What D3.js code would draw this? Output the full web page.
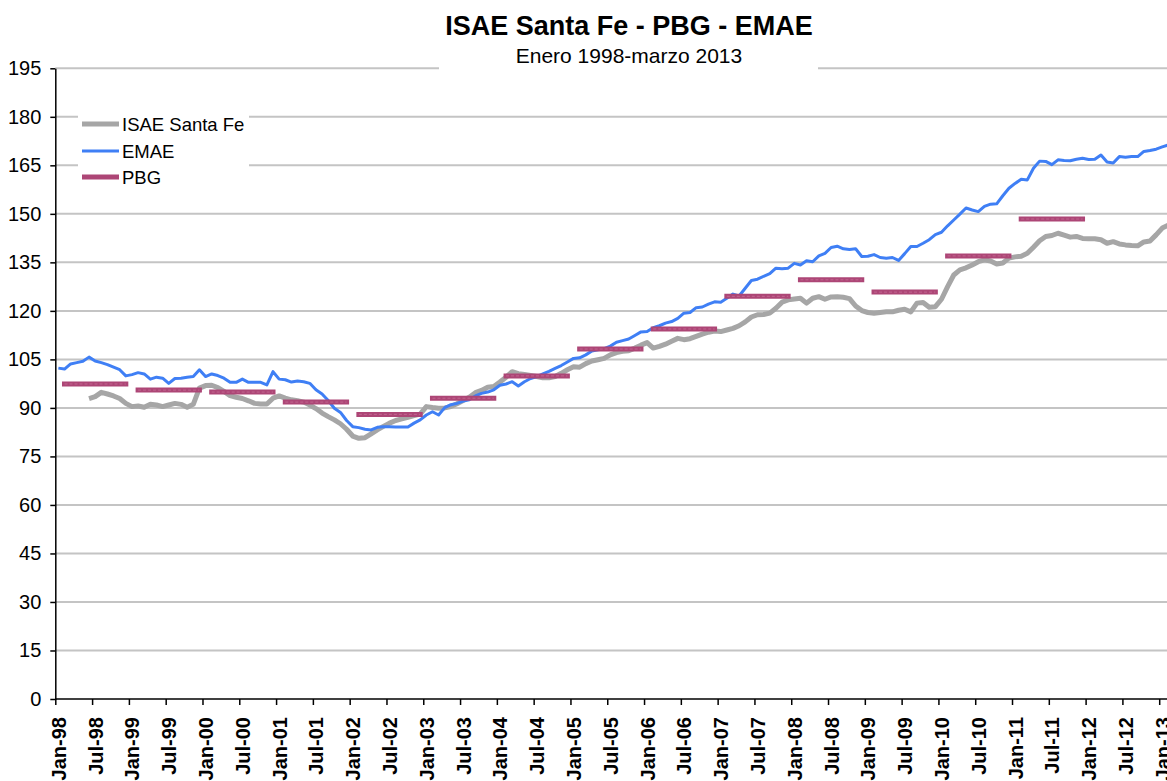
<!DOCTYPE html>
<html>
<head>
<meta charset="utf-8">
<script src="https://cdn.jsdelivr.net/npm/d3@7"></script>
<style>
  body { margin: 0; background: #fff; }
  svg { display: block; font-family: "Liberation Sans", Arial, sans-serif; }
</style>
</head>
<body>
<svg id="chart" width="1167" height="781"></svg>
<script>
// monthly index: 0 = Jan-98
var tickLabels = ["Jan-98","Jul-98","Jan-99","Jul-99","Jan-00","Jul-00","Jan-01","Jul-01",
  "Jan-02","Jul-02","Jan-03","Jul-03","Jan-04","Jul-04","Jan-05","Jul-05","Jan-06","Jul-06",
  "Jan-07","Jul-07","Jan-08","Jul-08","Jan-09","Jul-09","Jan-10","Jul-10","Jan-11","Jul-11",
  "Jan-12","Jul-12","Jan-13"];

var emae = [102.3,102.0,103.6,104.0,104.4,105.7,104.5,104.0,103.4,102.6,101.8,99.9,
  100.3,100.9,100.5,98.9,99.5,99.2,97.6,99.1,99.2,99.5,99.7,101.8,
  99.7,100.5,100.0,99.2,97.9,97.9,98.9,97.9,97.9,97.9,97.1,101.2,
  98.9,98.7,98.0,98.3,98.1,97.6,95.6,94.3,92.3,89.9,88.6,86.1,
  84.2,83.9,83.4,83.2,84.0,84.2,84.2,84.1,84.1,84.1,85.3,86.3,
  87.8,88.8,87.8,90.1,91.0,91.4,92.1,92.5,93.7,94.5,94.9,95.6,
  97.0,97.4,98.1,96.8,98.1,99.1,99.7,100.5,101.3,102.2,103.1,104.2,
  105.3,105.5,106.4,107.6,108.0,108.3,109.1,110.3,110.8,111.3,112.4,113.5,
  113.6,114.8,115.4,116.2,116.7,117.7,119.3,119.5,121.0,121.2,122.1,122.8,
  122.7,123.9,125.2,124.6,127.0,129.4,129.8,130.7,131.5,133.2,133.0,133.2,
  134.7,134.2,135.5,135.2,137.0,137.8,139.6,140.0,139.2,139.0,139.2,136.8,
  136.9,137.4,136.5,136.3,136.5,135.6,137.7,139.9,139.9,140.9,142.0,143.6,
  144.3,146.3,148.1,149.9,151.8,151.2,150.7,152.3,153.0,153.1,155.6,157.9,
  159.4,160.7,160.5,164.1,166.3,166.2,165.2,166.7,166.5,166.4,166.9,167.2,
  166.8,166.9,168.2,166.0,165.7,167.7,167.5,167.7,167.7,169.3,169.6,170.0,
  170.7,171.3,171.8];

var isae = [null,null,null,null,null,92.9,93.5,94.8,94.3,93.7,92.9,91.4,
  90.4,90.6,90.2,91.1,90.9,90.4,90.9,91.4,91.1,90.2,91.1,96.1,
  96.9,97.0,96.3,95.1,93.8,93.3,92.9,92.2,91.4,91.2,91.2,93.0,
  93.7,93.0,92.5,92.2,91.8,90.9,89.8,88.4,87.3,86.3,85.1,83.4,
  81.3,80.6,80.8,82.0,83.2,84.3,85.3,86.1,86.6,87.1,87.6,88.1,
  90.4,90.1,89.9,90.0,90.4,91.3,92.3,93.3,94.7,95.4,96.4,96.6,
  98.0,99.5,101.2,100.6,100.3,100.0,99.7,99.3,99.3,99.7,100.7,101.8,
  102.7,102.6,103.7,104.5,104.9,105.3,106.4,107.1,107.5,107.7,108.5,109.4,
  110.2,108.5,109.0,109.7,110.6,111.5,111.1,111.4,112.1,112.8,113.4,113.8,
  113.6,114.1,114.6,115.4,116.6,118.1,118.8,118.9,119.3,120.8,122.7,123.4,
  123.7,123.9,122.4,123.9,124.4,123.6,124.3,124.4,124.2,123.8,121.5,120.1,
  119.5,119.3,119.5,119.7,119.7,120.2,120.5,119.7,122.4,122.6,121.1,121.3,
  123.6,127.5,131.1,132.7,133.3,134.2,135.2,135.8,135.4,134.5,134.8,136.3,
  136.7,136.9,137.8,139.7,141.7,143.0,143.3,144.0,143.4,142.8,143.0,142.4,
  142.3,142.3,142.0,140.9,141.4,140.7,140.4,140.2,140.1,141.3,141.6,143.5,
  145.6,146.5,147.0];

// PBG: one value per year, drawn Feb to Dec
var pbgYears = [1998,1999,2000,2001,2002,2003,2004,2005,2006,2007,2008,2009,2010,2011];
var pbg = [97.4,95.5,94.9,91.8,88.0,93.0,99.9,108.2,114.4,124.5,129.6,125.8,137.0,148.4];

var yTicks = d3.range(0, 196, 15);

var svg = d3.select("#chart");
var x = d3.scaleLinear().domain([0, 180]).range([55.3, 1159.2]);
var y = d3.scaleLinear().domain([0, 195]).range([699, 68.3]);

// gridlines
svg.append("g")
  .selectAll("line")
  .data(yTicks.filter(function(d) { return d > 0; }))
  .enter().append("line")
  .attr("x1", x(0)).attr("x2", 1167)
  .attr("y1", function(d) { return y(d); })
  .attr("y2", function(d) { return y(d); })
  .attr("stroke", "#c4c4c4")
  .attr("stroke-width", 2);

// white boxes behind title and legend
svg.append("rect").attr("x", 439).attr("y", 0).attr("width", 379).attr("height", 72).attr("fill", "#fff");
svg.append("rect").attr("x", 78).attr("y", 104).attr("width", 171).attr("height", 86).attr("fill", "#fff");

// axes
var yAxis = svg.append("g")
  .attr("transform", "translate(" + x(0) + ",0)")
  .call(d3.axisLeft(y).tickValues(yTicks).tickSize(5).tickSizeOuter(0).tickPadding(9));
yAxis.selectAll("text").attr("font-size", 20).attr("font-family", "Liberation Sans, Arial, sans-serif").attr("fill", "#000");
yAxis.selectAll("line").attr("stroke", "#000").attr("stroke-width", 1.5);
yAxis.select(".domain").attr("stroke", "#000").attr("stroke-width", 1.5);

var xAxis = svg.append("g")
  .attr("transform", "translate(0," + y(0) + ")")
  .call(d3.axisBottom(x)
    .tickValues(d3.range(0, 181, 6))
    .tickFormat(function(d, i) { return tickLabels[i]; })
    .tickSize(6).tickSizeOuter(0));
xAxis.select(".domain").attr("d", "M" + x(0) + ",0H1167").attr("stroke", "#000").attr("stroke-width", 1.5);
xAxis.selectAll("line").attr("stroke", "#000").attr("stroke-width", 1.5);
xAxis.selectAll("text")
  .attr("transform", "rotate(-90)")
  .attr("text-anchor", "end")
  .attr("x", -18)
  .attr("y", 10)
  .attr("dy", 0)
  .attr("font-size", 20)
  .attr("font-weight", "bold")
  .attr("font-family", "Liberation Sans, Arial, sans-serif")
  .attr("fill", "#000");

// lines
var line = d3.line()
  .defined(function(d) { return d[1] != null; })
  .x(function(d) { return x(d[0] + 0.5); })
  .y(function(d) { return y(d[1]); });

svg.append("path")
  .datum(isae.map(function(v, i) { return [i, v]; }))
  .attr("fill", "none")
  .attr("stroke", "#a6a6a6")
  .attr("stroke-width", 5)
  .attr("stroke-linejoin", "round")
  .attr("d", line);

svg.append("path")
  .datum(emae.map(function(v, i) { return [i, v]; }))
  .attr("fill", "none")
  .attr("stroke", "#3f7ff5")
  .attr("stroke-width", 3)
  .attr("stroke-linejoin", "round")
  .attr("d", line);

var pbgG = svg.append("g");
pbgYears.forEach(function(yr, k) {
  var i0 = (yr - 1998) * 12 + 1, i1 = (yr - 1998) * 12 + 11;
  var seg = [[i0, pbg[k]], [i1, pbg[k]]];
  pbgG.append("path").datum(seg)
    .attr("fill", "none").attr("stroke", "#ad4676").attr("stroke-width", 5)
    .attr("stroke-linecap", "square").attr("d", line);
  pbgG.append("path").datum(seg)
    .attr("fill", "none").attr("stroke", "#c26690").attr("stroke-width", 1)
    .attr("stroke-dasharray", "3,2").attr("d", line);
});

// title
svg.append("text").attr("x", 629).attr("y", 35).attr("text-anchor", "middle")
  .attr("font-size", 27).attr("font-weight", "bold").text("ISAE Santa Fe - PBG - EMAE");
svg.append("text").attr("x", 629).attr("y", 63).attr("text-anchor", "middle")
  .attr("font-size", 21).text("Enero 1998-marzo 2013");

// legend
var legend = [
  { name: "ISAE Santa Fe", color: "#a6a6a6", w: 5, y: 124 },
  { name: "EMAE", color: "#3f7ff5", w: 3, y: 151 },
  { name: "PBG", color: "#ad4676", w: 5, y: 177 }
];
legend.forEach(function(d) {
  svg.append("line").attr("x1", 82).attr("x2", 119).attr("y1", d.y).attr("y2", d.y)
    .attr("stroke", d.color).attr("stroke-width", d.w);
  svg.append("text").attr("x", 122).attr("y", d.y + 7)
    .attr("font-size", 18.5).text(d.name);
});
</script>
</body>
</html>
